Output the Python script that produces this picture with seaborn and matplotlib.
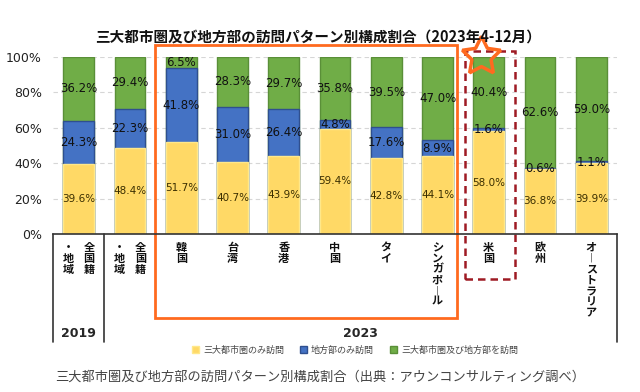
import matplotlib
matplotlib.use("Agg")
import matplotlib.pyplot as plt
import matplotlib.patches as mpatches
import pandas as pd
import seaborn as sns

# ================= DATA =================
CATEGORIES = ["全国籍・地域", "全国籍・地域", "韓国", "台湾", "香港", "中国",
              "タイ", "シンガポール", "米国", "欧州", "オーストラリア"]
YEARS = ["2019", "2023", "2023", "2023", "2023", "2023",
         "2023", "2023", "2023", "2023", "2023"]
METRO_ONLY = [39.6, 48.4, 51.7, 40.7, 43.9, 59.4, 42.8, 44.1, 58.0, 36.8, 39.9]
REGION_ONLY = [24.3, 22.3, 41.8, 31.0, 26.4, 4.8, 17.6, 8.9, 1.6, 0.6, 1.1]
BOTH = [36.2, 29.4, 6.5, 28.3, 29.7, 35.8, 39.5, 47.0, 40.4, 62.6, 59.0]

SERIES_NAMES = ["三大都市圏のみ訪問", "地方部のみ訪問", "三大都市圏及び地方部を訪問"]
TITLE = "三大都市圏及び地方部の訪問パターン別構成割合（2023年4-12月）"
CAPTION = "三大都市圏及び地方部の訪問パターン別構成割合（出典：アウンコンサルティング調べ）"

YELLOW, BLUE, GREEN = "#FFD966", "#4472C4", "#70AD47"
EDGES = ["#FFE88A", "#2F4F8F", "#5A8F38"]
ORANGE = "#FF6A1F"
DARKRED = "#9E1B24"

# ================= TABLE =================
df = pd.DataFrame({
    "key": [f"{c}_{y}_{i}" for i, (c, y) in enumerate(zip(CATEGORIES, YEARS))],
    "metro": METRO_ONLY,
    "region": REGION_ONLY,
    "both": BOTH,
})
df["cum1"] = df["metro"]
df["cum2"] = df["metro"] + df["region"]
df["cum3"] = df["cum2"] + df["both"]
order = list(df["key"])

sns.set_style("white")
plt.rcParams["font.family"] = ["Noto Sans CJK JP", "DejaVu Sans"]

fig = plt.figure(figsize=(6.4, 3.92), dpi=100)
ax = fig.add_axes([0.083, 0.403, 0.881, 0.452])

# stacked bars: draw cumulative totals back to front
for col, color, edge, name in [("cum3", GREEN, EDGES[2], SERIES_NAMES[2]),
                               ("cum2", BLUE, EDGES[1], SERIES_NAMES[1]),
                               ("cum1", YELLOW, EDGES[0], SERIES_NAMES[0])]:
    sns.barplot(data=df, x="key", y=col, order=order, color=color, width=0.6,
                edgecolor=edge, linewidth=1.0, saturation=1, label=name, ax=ax)
if ax.get_legend() is not None:
    ax.get_legend().remove()

ax.set_xlim(-0.5, len(order) - 0.5)
ax.set_ylim(0, 100)
ax.set_yticks(range(0, 101, 20))
ax.set_yticklabels([f"{v}%" for v in range(0, 101, 20)], fontsize=9,
                   color="#222222", family="DejaVu Sans")
ax.tick_params(axis="y", length=0, pad=8)
ax.tick_params(axis="x", length=0)
ax.set_xticks([])
ax.set_xlabel("")
ax.set_ylabel("")
ax.yaxis.grid(True, linestyle=(0, (4, 3)), color="#D6D6D6", linewidth=0.8)
ax.set_axisbelow(True)
for s in ["left", "right", "top"]:
    ax.spines[s].set_visible(False)
ax.spines["bottom"].set_color("#333333")
ax.spines["bottom"].set_linewidth(1.2)

# value labels
for i in range(len(order)):
    m, r, b = METRO_ONLY[i], REGION_ONLY[i], BOTH[i]
    ax.text(i, m / 2, f"{m:.1f}%", ha="center", va="center", fontsize=7.5,
            color="#3A2E00", family="DejaVu Sans")
    ax.text(i, m + r / 2, f"{r:.1f}%", ha="center", va="center", fontsize=8.5,
            color="#111111", family="DejaVu Sans")
    ax.text(i, m + r + b / 2, f"{b:.1f}%", ha="center", va="center", fontsize=8.5,
            color="#111111", family="DejaVu Sans")


# vertical (tategaki) category labels: one character per line,
# the long vowel mark shown in its vertical form
def vtext(x, text, dx=0):
    column = "\n".join("︱" if ch == "ー" else ch for ch in text)
    ax.annotate(column, xy=(x, 0), xycoords=("data", "axes fraction"),
                xytext=(dx, -5), textcoords="offset points",
                ha="center", va="top", ma="center", fontsize=8, fontweight="bold",
                linespacing=0.78, color="#111111", annotation_clip=False)


for i, cat in enumerate(CATEGORIES):
    if "・" in cat:
        head, tail = cat.split("・")
        vtext(i, head, dx=7.5)
        vtext(i, "・" + tail, dx=-7.5)
    else:
        vtext(i, cat)

# group separators and year labels
for xa in [0.0, 1 / 11, 1.0]:
    ax.plot([xa, xa], [0, -0.61], transform=ax.transAxes, clip_on=False,
            color="#333333", linewidth=1.2)
ax.text(0.0, -0.56, "2019", transform=ax.get_xaxis_transform(), ha="center",
        va="center", fontsize=9, fontweight="bold", family="DejaVu Sans")
ax.text(5.5, -0.56, "2023", transform=ax.get_xaxis_transform(), ha="center",
        va="center", fontsize=9, fontweight="bold", family="DejaVu Sans")

# highlight boxes and star
ax.add_patch(mpatches.Rectangle((0.181, -0.475), 0.535, 1.543, transform=ax.transAxes,
                                fill=False, edgecolor=ORANGE, linewidth=2.0,
                                clip_on=False))
ax.add_patch(mpatches.Rectangle((0.731, -0.255), 0.089, 1.289, transform=ax.transAxes,
                                fill=False, edgecolor=DARKRED, linewidth=1.8,
                                linestyle=(0, (3, 2)), clip_on=False))
ax.plot([7.85], [100.5], marker=(5, 1, 0), markersize=29, markerfacecolor="none",
        markeredgecolor=ORANGE, markeredgewidth=2.5, clip_on=False, zorder=5)

# legend
handles, labels = ax.get_legend_handles_labels()
lut = dict(zip(labels, handles))
fig.legend([lut[n] for n in SERIES_NAMES], SERIES_NAMES, loc="center",
           bbox_to_anchor=(0.555, 0.107), ncol=3, frameon=False, fontsize=6.5,
           handlelength=0.7, handleheight=0.7, handletextpad=0.5,
           columnspacing=1.8, labelcolor="#444444")

fig.text(0.497, 0.905, TITLE, ha="center", va="center", fontsize=10.5,
         fontweight="bold", color="#111111")
fig.text(0.5, 0.038, CAPTION, ha="center", va="center", fontsize=9.5,
         color="#444444")

fig.savefig("out.png", dpi=100)
